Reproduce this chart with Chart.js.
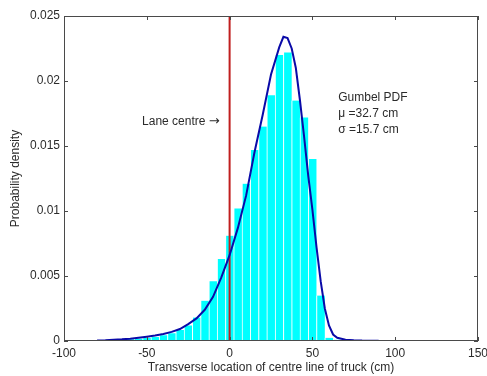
<!DOCTYPE html>
<html>
<head>
<meta charset="utf-8">
<script src="https://cdn.jsdelivr.net/npm/chart.js@4/dist/chart.umd.min.js"></script>
<style>
  html, body { margin: 0; padding: 0; background: #fff; }
</style>
</head>
<body>
<canvas id="chart" width="487" height="376"></canvas>
<script>
// histogram bins (cm, centre of each 5 cm bin) and observed density
const binCentres = [-80, -75, -70, -65, -60, -55, -50, -45, -40, -35, -30, -25, -20, -15, -10, -5,
  0, 5, 10, 15, 20, 25, 30, 35, 40, 45, 50, 55, 60, 65];
const binDensity = [0.00002, 0.00004, 0.00006, 0.0001, 0.00013, 0.00018, 0.00024, 0.0003, 0.00044, 0.0006,
  0.00085, 0.0012, 0.0018, 0.0031, 0.0046, 0.0063,
  0.0081, 0.0102, 0.0121, 0.0147, 0.0165, 0.0189, 0.0220, 0.0222, 0.0185, 0.0172, 0.0140, 0.0035, 0.00025, 0.0001];

// fitted Gumbel PDF
const pdfX = [-80, -75, -70, -65, -60, -55, -50, -45, -40, -35, -30, -25, -20, -15, -10, -5,
  0, 5, 10, 15, 20, 25, 30, 32.5, 35, 37.5, 40, 42.5, 45, 47.5, 50, 52.5, 55, 57.5, 60, 62.5, 65, 70, 75, 80, 90];
const pdfY = [0.00003, 0.00005, 0.0001, 0.00013, 0.00018, 0.00025, 0.00033, 0.00042, 0.00054, 0.0007,
  0.00092, 0.0013, 0.00174, 0.0024, 0.0034, 0.0049,
  0.0066, 0.0087, 0.0112, 0.0145, 0.0174, 0.0205, 0.0226, 0.0234, 0.0233, 0.0225, 0.021, 0.0185, 0.0157,
  0.0127, 0.0101, 0.0072, 0.0046, 0.0025, 0.0012, 0.0005, 0.00025, 0.0001, 0.00005, 0.00003, 0.00002];

const laneCentre = 0;
const xTicks = [-100, -50, 0, 50, 100, 150];
const yTicks = [0, 0.005, 0.01, 0.015, 0.02, 0.025];

const fitLines = ["Gumbel PDF", "\u03bc =32.7 cm", "\u03c3 =15.7 cm"];

const textColor = "#2b2b2b";
const fontFamily = "'Liberation Sans', Arial, sans-serif";

// box round the plot, ticks pointing inwards, text notes
const boxPlugin = {
  id: "box",
  afterDatasetsDraw(chart) {
    const { ctx, chartArea: a, scales } = chart;
    ctx.save();
    ctx.strokeStyle = "#4a4a4a";
    ctx.lineWidth = 1;
    ctx.strokeRect(a.left + 0.5, a.top + 0.5, a.right - a.left - 1, a.bottom - a.top - 1);
    ctx.beginPath();
    xTicks.forEach(v => {
      const px = Math.round(scales.x.getPixelForValue(v)) + 0.5;
      ctx.moveTo(px, a.bottom); ctx.lineTo(px, a.bottom - 4);
      ctx.moveTo(px, a.top); ctx.lineTo(px, a.top + 4);
    });
    yTicks.forEach(v => {
      const py = Math.round(scales.y.getPixelForValue(v)) + 0.5;
      ctx.moveTo(a.left, py); ctx.lineTo(a.left + 4, py);
      ctx.moveTo(a.right, py); ctx.lineTo(a.right - 4, py);
    });
    ctx.stroke();

    ctx.fillStyle = textColor;
    ctx.textBaseline = "middle";
    const arrowX = scales.x.getPixelForValue(-6);
    const noteY = scales.y.getPixelForValue(0.0169);
    ctx.textAlign = "right";
    ctx.font = "13px 'DejaVu Sans', sans-serif";
    ctx.fillText("\u2192", arrowX, noteY);
    const arrowW = ctx.measureText("\u2192").width;
    ctx.font = "12px " + fontFamily;
    ctx.fillText("Lane centre ", arrowX - arrowW, noteY);
    ctx.textAlign = "left";
    fitLines.forEach((t, i) => {
      ctx.fillText(t, scales.x.getPixelForValue(65.6), scales.y.getPixelForValue(0.01872) + i * 15.8);
    });
    ctx.restore();
  }
};

new Chart(document.getElementById("chart"), {
  type: "bar",
  data: {
    datasets: [
      {
        type: "line",
        data: pdfX.map((x, i) => ({ x, y: pdfY[i] })),
        borderColor: "#0a0aa8",
        borderWidth: 2,
        pointRadius: 0,
        tension: 0,
        order: 1
      },
      {
        type: "line",
        data: [{ x: laneCentre, y: yTicks[0] }, { x: laneCentre, y: yTicks[yTicks.length - 1] }],
        borderColor: "#c01e1e",
        borderWidth: 2,
        pointRadius: 0,
        order: 2
      },
      {
        type: "bar",
        data: binCentres.map((x, i) => ({ x, y: binDensity[i] })),
        backgroundColor: "#00ffff",
        borderColor: "rgba(255,255,255,0.85)",
        borderWidth: { left: 1, right: 0, top: 0, bottom: 0 },
        barPercentage: 1,
        categoryPercentage: 1,
        order: 3
      }
    ]
  },
  options: {
    responsive: false,
    animation: false,
    events: [],
    layout: { padding: { top: 16, right: 9, left: 0, bottom: 0 } },
    plugins: { legend: { display: false }, tooltip: { enabled: false } },
    scales: {
      x: {
        type: "linear",
        offset: false,
        min: -100,
        max: 150,
        grid: { display: false, drawTicks: false, offset: false },
        border: { display: false },
        afterBuildTicks: s => { s.ticks = xTicks.map(value => ({ value })); },
        afterFit: s => { s.height = 35; s.paddingLeft = 0; s.paddingRight = 0; },
        ticks: { color: textColor, padding: 5, maxRotation: 0, font: { size: 12, family: fontFamily } },
        title: {
          display: true,
          text: "Transverse location of centre line of truck (cm)",
          color: textColor,
          padding: { top: 0, bottom: 1 },
          font: { size: 12, family: fontFamily }
        }
      },
      y: {
        min: 0,
        max: 0.025,
        grid: { display: false, drawTicks: false },
        border: { display: false },
        afterBuildTicks: s => { s.ticks = yTicks.map(value => ({ value })); },
        afterFit: s => { s.width = 64; s.paddingTop = 0; s.paddingBottom = 0; },
        ticks: {
          color: textColor,
          padding: 4,
          font: { size: 12, family: fontFamily },
          callback: v => String(Number(v.toFixed(3)))
        },
        title: {
          display: true,
          text: "Probability density",
          color: textColor,
          padding: { top: 8, bottom: 0 },
          font: { size: 12, family: fontFamily }
        }
      }
    }
  },
  plugins: [boxPlugin]
});
</script>
</body>
</html>
